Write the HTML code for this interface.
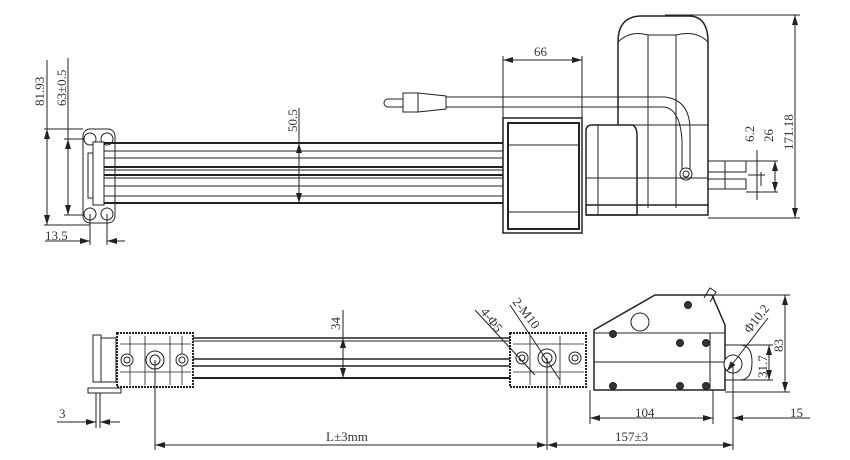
<!DOCTYPE html>
<html><head><style>body{margin:0;background:#fff}svg{display:block}text{font-family:"Liberation Serif",serif;font-size:13px;fill:#333}</style></head><body>
<svg width="850" height="460" viewBox="0 0 850 460" xmlns="http://www.w3.org/2000/svg">
<defs><marker id="a" viewBox="0 0 10 6" refX="10" refY="3" markerWidth="10" markerHeight="6" orient="auto-start-reverse"><path d="M0,0L10,3L0,6z" fill="#222"/></marker></defs>
<g stroke="#222" fill="none" stroke-width="1">
<!-- TOP VIEW -->
<rect x="83" y="129" width="32" height="94" rx="7"/>
<circle cx="90" cy="139" r="6"/><circle cx="107" cy="139" r="6"/><circle cx="90" cy="214" r="6"/><circle cx="107" cy="214" r="6"/>
<rect x="93" y="142" width="11" height="63" fill="#fff"/><rect x="88" y="153" width="5" height="45"/>
<line x1="104" y1="143" x2="503" y2="143" stroke-width="2"/>
<line x1="104" y1="151" x2="503" y2="151"/><line x1="104" y1="158" x2="503" y2="158"/>
<line x1="104" y1="167" x2="503" y2="167" stroke-width="2"/><line x1="104" y1="170" x2="503" y2="170"/>
<line x1="104" y1="175" x2="503" y2="175" stroke-width="2"/><line x1="104" y1="178" x2="503" y2="178"/>
<line x1="104" y1="186" x2="503" y2="186"/><line x1="104" y1="196" x2="503" y2="196"/>
<line x1="104" y1="203" x2="503" y2="203" stroke-width="2"/>
<rect x="503" y="118" width="79" height="115" stroke-width="1.5"/><rect x="508" y="123" width="71" height="106" stroke-width="2"/>
<line x1="508" y1="145" x2="579" y2="145"/><line x1="508" y1="212" x2="579" y2="212"/>
<!-- plug & cable -->
<path d="M403,99H388a4,4 0 0 0 0,8H403"/><rect x="403" y="93" width="15" height="19"/><path d="M418,93L446,96V109L418,112"/>
<path d="M446,97H665Q690,100 690,130V170"/><path d="M446,107H665Q680,110 682,140V170"/>
<!-- motor -->
<path d="M618,125V42Q618,17 640,16H690Q708,17 708,42V205" stroke-width="1.5"/>
<path d="M618,42Q630,30 648,35M708,42Q696,30 676,35"/>
<line x1="648" y1="35" x2="648" y2="208"/><line x1="676" y1="35" x2="676" y2="208"/>
<line x1="618" y1="125" x2="708" y2="125"/><line x1="648" y1="35" x2="676" y2="35"/>
<path d="M586,131Q586,125 592,125H633Q637,128 637,135V215H586Z" stroke-width="1.5" fill="#fff"/>
<line x1="598" y1="125" x2="598" y2="215"/>
<line x1="586" y1="178" x2="708" y2="178"/>
<path d="M586,205H708V215H586" stroke-width="1.5"/>
<circle cx="686" cy="174" r="6"/><circle cx="686" cy="174" r="3"/>
<rect x="708" y="161" width="38" height="11"/><rect x="708" y="179" width="38" height="10"/><line x1="725" y1="161" x2="725" y2="189"/>
<!-- top dims -->
<line x1="47" y1="129" x2="47" y2="225" marker-start="url(#a)" marker-end="url(#a)"/><line x1="44" y1="129" x2="83" y2="129"/><line x1="44" y1="225" x2="90" y2="225"/><line x1="47" y1="60" x2="47" y2="129"/>
<line x1="68" y1="139" x2="68" y2="215" marker-start="url(#a)" marker-end="url(#a)"/><line x1="64" y1="139" x2="84" y2="139"/><line x1="64" y1="215" x2="84" y2="215"/><line x1="68" y1="58" x2="68" y2="139"/>
<line x1="45" y1="241" x2="90" y2="241" marker-end="url(#a)"/><line x1="107" y1="241" x2="125" y2="241" marker-start="url(#a)"/><line x1="90" y1="214" x2="90" y2="245"/><line x1="107" y1="214" x2="107" y2="245"/>
<line x1="299" y1="143" x2="299" y2="203" marker-start="url(#a)" marker-end="url(#a)"/><line x1="299" y1="108" x2="299" y2="143"/>
<line x1="503" y1="60" x2="582" y2="60" marker-start="url(#a)" marker-end="url(#a)"/><line x1="503" y1="56" x2="503" y2="118"/><line x1="582" y1="56" x2="582" y2="118"/>
<line x1="795" y1="15" x2="795" y2="218" marker-start="url(#a)" marker-end="url(#a)"/><line x1="665" y1="15" x2="800" y2="15"/><line x1="708" y1="218" x2="800" y2="218"/>
<line x1="775" y1="161" x2="775" y2="192" marker-start="url(#a)" marker-end="url(#a)"/><line x1="746" y1="161" x2="778" y2="161"/><line x1="746" y1="192" x2="778" y2="192"/>
<line x1="757" y1="150" x2="757" y2="200"/><line x1="761" y1="172" x2="761" y2="186"/><line x1="748" y1="175" x2="765" y2="175"/>
<!-- BOTTOM VIEW -->
<rect x="93" y="335" width="8" height="47"/><rect x="101" y="338" width="15" height="44"/><rect x="88" y="388" width="33" height="5"/>
<line x1="96" y1="393" x2="96" y2="428"/><line x1="100" y1="393" x2="100" y2="428"/>
<rect x="117" y="333" width="76" height="54" stroke-dasharray="2 1" stroke-width="2"/>
<path d="M120,344H191M120,372H191M130,336V385M145,336V385M170,336V385M182,336V385" stroke-width="0.8"/>
<circle cx="127" cy="360" r="6" fill="#fff"/><circle cx="127" cy="360" r="3"/><circle cx="155" cy="360" r="9" fill="#fff"/><circle cx="155" cy="360" r="5"/><circle cx="182" cy="360" r="6" fill="#fff"/><circle cx="182" cy="360" r="3"/>
<line x1="193" y1="338" x2="510" y2="338" stroke-width="1.5"/><line x1="193" y1="341" x2="510" y2="341"/>
<line x1="193" y1="359" x2="510" y2="359" stroke-width="1.5"/><line x1="193" y1="366" x2="510" y2="366" stroke-width="1.5"/>
<line x1="193" y1="378" x2="510" y2="378" stroke-width="2"/>
<rect x="510" y="333" width="76" height="54" stroke-dasharray="2 1" stroke-width="2"/>
<path d="M513,344H584M513,372H584M530,336V385M560,336V385" stroke-width="0.8"/>
<circle cx="522" cy="358" r="6" fill="#fff"/><circle cx="522" cy="358" r="3"/><circle cx="547" cy="358" r="9" fill="#fff"/><circle cx="547" cy="358" r="5"/><circle cx="575" cy="358" r="6" fill="#fff"/><circle cx="575" cy="358" r="3"/>
<path d="M594,330L655,295H712L725,325V390H594Z" stroke-width="1.5"/>
<line x1="594" y1="333" x2="725" y2="333"/><line x1="594" y1="362" x2="725" y2="362"/><line x1="710" y1="333" x2="710" y2="390"/>
<circle cx="640" cy="322" r="9"/><path d="M704,298L710,288L716,292L710,302"/>
<g fill="#333"><circle cx="688" cy="305" r="3.5"/><circle cx="613" cy="334" r="3.5"/><circle cx="680" cy="343" r="3.5"/><circle cx="706" cy="343" r="3.5"/><circle cx="613" cy="386" r="3.5"/><circle cx="680" cy="386" r="3.5"/><circle cx="706" cy="386" r="3.5"/></g>
<path d="M725,345H740Q752,345 752,362Q752,380 740,380H725"/><circle cx="733" cy="364" r="9" fill="#fff"/>
<!-- bottom dims -->
<line x1="343" y1="338" x2="343" y2="378" marker-start="url(#a)" marker-end="url(#a)"/><line x1="343" y1="310" x2="343" y2="338"/>
<line x1="57" y1="422" x2="96" y2="422" marker-end="url(#a)"/><line x1="100" y1="422" x2="120" y2="422" marker-start="url(#a)"/>
<line x1="155" y1="360" x2="155" y2="450"/><line x1="547" y1="358" x2="547" y2="450"/>
<line x1="155" y1="445" x2="547" y2="445" marker-start="url(#a)" marker-end="url(#a)"/>
<line x1="547" y1="445" x2="733" y2="445" marker-start="url(#a)" marker-end="url(#a)"/><line x1="733" y1="364" x2="733" y2="450"/>
<line x1="590" y1="390" x2="590" y2="424"/><line x1="590" y1="418" x2="713" y2="418" marker-start="url(#a)" marker-end="url(#a)"/><line x1="713" y1="390" x2="713" y2="424"/>
<line x1="690" y1="418" x2="713" y2="418"/><line x1="733" y1="418" x2="810" y2="418" marker-start="url(#a)"/>
<line x1="785" y1="295" x2="785" y2="392" marker-start="url(#a)" marker-end="url(#a)"/><line x1="712" y1="295" x2="790" y2="295"/><line x1="725" y1="392" x2="790" y2="392"/>
<line x1="769" y1="345" x2="769" y2="380" marker-start="url(#a)" marker-end="url(#a)"/><line x1="740" y1="345" x2="773" y2="345"/><line x1="740" y1="380" x2="773" y2="380"/>
<line x1="768" y1="318" x2="727" y2="371" marker-end="url(#a)"/>
<line x1="475" y1="310" x2="535" y2="375"/><line x1="510" y1="305" x2="560" y2="380"/>
</g>
<text transform="translate(44,106) rotate(-90)">81.93</text>
<text transform="translate(66,106) rotate(-90)">63±0.5</text>
<text x="45" y="240">13.5</text>
<text transform="translate(297,132) rotate(-90)">50.5</text>
<text x="534" y="56">66</text>
<text transform="translate(754,142) rotate(-90)">6.2</text>
<text transform="translate(773,142) rotate(-90)">26</text>
<text transform="translate(793,150) rotate(-90)">171.18</text>
<text transform="translate(340,330) rotate(-90)">34</text>
<text x="59" y="418">3</text>
<text x="326" y="441">L±3mm</text>
<text x="635" y="417">104</text>
<text x="790" y="417">15</text>
<text x="615" y="441">157±3</text>
<text transform="translate(783,352) rotate(-90)">83</text>
<text transform="translate(767,378) rotate(-90)">31.7</text>
<text transform="translate(750,334) rotate(-52)">Φ10.2</text>
<text transform="translate(480,312) rotate(52)">4-Φ5</text>
<text transform="translate(512,302) rotate(52)">2-M10</text>
</svg>
</body></html>
